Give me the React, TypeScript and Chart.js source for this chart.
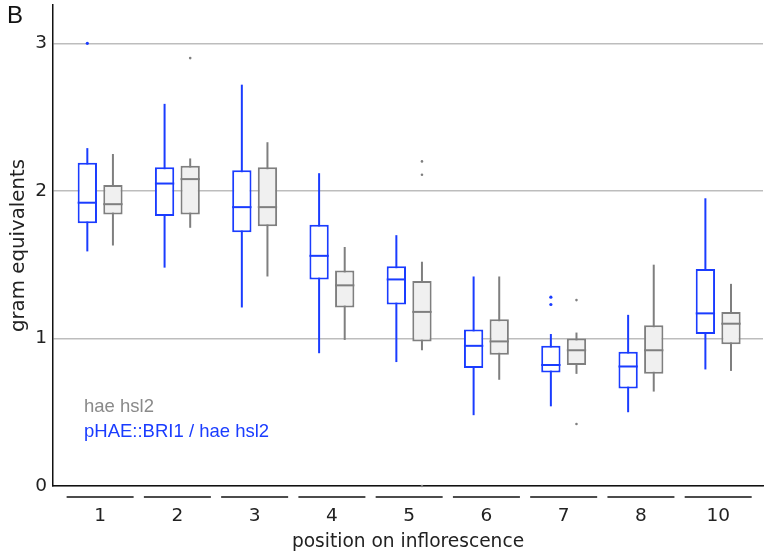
import React, { useEffect, useRef } from 'react';
import { Chart, registerables } from 'chart.js';

Chart.register(...registerables);

const positions = ['1', '2', '3', '4', '5', '6', '7', '8', '10'];

// pHAE::BRI1 / hae hsl2 (blue)
const briMin = [1.59, 1.48, 1.21, 0.9, 0.84, 0.48, 0.54, 0.5, 0.79];
const briQ1 = [1.78, 1.83, 1.72, 1.4, 1.23, 0.8, 0.77, 0.66, 1.03];
const briMedian = [1.92, 2.05, 1.89, 1.56, 1.4, 0.95, 0.82, 0.81, 1.17];
const briQ3 = [2.19, 2.16, 2.14, 1.77, 1.49, 1.06, 0.95, 0.91, 1.47];
const briMax = [2.29, 2.59, 2.72, 2.12, 1.7, 1.42, 1.03, 1.16, 1.95];
const briOutliers = [[3.0], [], [], [], [], [], [1.28, 1.23], [], []];

// hae hsl2 (gray)
const haeMin = [1.63, 1.75, 1.42, 0.99, 0.92, 0.72, 0.76, 0.64, 0.78];
const haeQ1 = [1.84, 1.84, 1.76, 1.21, 0.98, 0.89, 0.82, 0.76, 0.96];
const haeMedian = [1.91, 2.08, 1.89, 1.36, 1.18, 0.98, 0.92, 0.92, 1.1];
const haeQ3 = [2.04, 2.17, 2.16, 1.46, 1.39, 1.13, 1.0, 1.09, 1.18];
const haeMax = [2.25, 2.22, 2.33, 1.62, 1.52, 1.42, 1.04, 1.5, 1.37];
const haeOutliers = [[], [2.9], [], [], [2.2, 2.11, 0], [], [1.26, 0.42], [], []];

const yTicks = [0, 1, 2, 3];

const BLUE = '#1a3cff';
const GRAY = '#7f7f7f';
const GRAY_FILL = '#f0f0f0';
const TEXT = '#222222';
const DEJAVU = '"DejaVu Sans", sans-serif';
const ARIAL = '"Liberation Sans", Arial, sans-serif';

const stats = [
  { min: briMin, med: briMedian, max: briMax, out: briOutliers, color: BLUE, lw: 2, r: 1.6 },
  { min: haeMin, med: haeMedian, max: haeMax, out: haeOutliers, color: GRAY, lw: 2, r: 1.3 },
];

const boxPlugin = {
  id: 'boxExtras',
  beforeDatasetsDraw(chart: any) {
    const ctx = chart.ctx;
    const y = chart.scales.y;
    stats.forEach((s, di) => {
      const meta = chart.getDatasetMeta(di);
      meta.data.forEach((bar: any, i: number) => {
        const { x } = bar.getProps(['x'], true);
        ctx.save();
        ctx.strokeStyle = s.color;
        ctx.lineWidth = s.lw;
        ctx.beginPath();
        ctx.moveTo(x, y.getPixelForValue(s.min[i]));
        ctx.lineTo(x, y.getPixelForValue(s.max[i]));
        ctx.stroke();
        ctx.restore();
      });
    });
  },
  afterDatasetsDraw(chart: any) {
    const ctx = chart.ctx;
    const y = chart.scales.y;
    stats.forEach((s, di) => {
      const meta = chart.getDatasetMeta(di);
      meta.data.forEach((bar: any, i: number) => {
        const { x, width } = bar.getProps(['x', 'width'], true);
        ctx.save();
        ctx.strokeStyle = s.color;
        ctx.lineWidth = s.lw;
        const my = y.getPixelForValue(s.med[i]);
        ctx.beginPath();
        ctx.moveTo(x - width / 2, my);
        ctx.lineTo(x + width / 2, my);
        ctx.stroke();
        ctx.fillStyle = s.color;
        s.out[i].forEach((v: number) => {
          ctx.beginPath();
          ctx.arc(x, y.getPixelForValue(v), s.r, 0, Math.PI * 2);
          ctx.fill();
        });
        ctx.restore();
      });
    });
  },
  afterDraw(chart: any) {
    const ctx = chart.ctx;
    const xs = chart.scales.x;
    const area = chart.chartArea;
    ctx.save();
    // group underlines
    ctx.strokeStyle = '#111';
    ctx.lineWidth = 1.5;
    positions.forEach((_, i) => {
      const cx = xs.getPixelForValue(i + 1);
      ctx.beginPath();
      ctx.moveTo(cx - 33.5, area.bottom + 11);
      ctx.lineTo(cx + 33.5, area.bottom + 11);
      ctx.stroke();
    });
    // panel letter
    ctx.fillStyle = '#111';
    ctx.font = `24px ${ARIAL}`;
    ctx.textAlign = 'left';
    ctx.textBaseline = 'alphabetic';
    ctx.fillText('B', 7, 23);
    // legend text
    ctx.font = `18.5px ${ARIAL}`;
    ctx.fillStyle = '#8a8a8a';
    ctx.fillText('hae hsl2', area.left + 31, 412);
    ctx.fillStyle = BLUE;
    ctx.fillText('pHAE::BRI1 / hae hsl2', area.left + 31, 437);
    ctx.restore();
  },
};

export default function App() {
  const ref = useRef<HTMLCanvasElement>(null);
  useEffect(() => {
    const xs = positions.map((_, i) => i + 1);
    const chart = new Chart(ref.current as HTMLCanvasElement, {
      type: 'bar',
      data: {
        datasets: [
          {
            label: 'pHAE::BRI1 / hae hsl2',
            data: xs.map((x, i) => ({ x, y: [briQ1[i], briQ3[i]] })) as any,
            backgroundColor: '#ffffff',
            borderColor: BLUE,
            borderWidth: 2,
            borderSkipped: false,
            categoryPercentage: 0.663,
            barPercentage: 0.754,
          },
          {
            label: 'hae hsl2',
            data: xs.map((x, i) => ({ x, y: [haeQ1[i], haeQ3[i]] })) as any,
            backgroundColor: GRAY_FILL,
            borderColor: GRAY,
            borderWidth: 2,
            borderSkipped: false,
            categoryPercentage: 0.663,
            barPercentage: 0.754,
          },
        ],
      },
      options: {
        responsive: false,
        animation: false,
        layout: { padding: { top: 5, right: 1, left: 0, bottom: 0 } },
        scales: {
          x: {
            type: 'linear',
            offset: false,
            min: 0.39,
            max: 9.58,
            afterBuildTicks: (s: any) => {
              s.ticks = xs.map((v) => ({ value: v }));
            },
            afterFit: (s: any) => {
              s.height = 68;
              s.paddingLeft = 0;
              s.paddingRight = 0;
            },
            ticks: {
              callback: (v: any) => positions[Math.round(Number(v)) - 1],
              padding: 19,
              font: { family: DEJAVU, size: 18.5 },
              color: TEXT,
              maxRotation: 0,
            },
            grid: { display: true, offset: false, drawOnChartArea: false, drawTicks: false, color: 'rgba(0,0,0,0)' },
            border: { display: true, color: '#111', width: 1.5 },
            title: {
              display: true,
              text: 'position on inflorescence',
              font: { family: DEJAVU, size: 18.6 },
              color: TEXT,
              padding: { top: 1, bottom: 1 },
            },
          },
          y: {
            min: 0,
            max: 3.26,
            afterBuildTicks: (s: any) => {
              s.ticks = yTicks.map((v) => ({ value: v }));
            },
            afterFit: (s: any) => {
              s.width = 53;
              s.paddingTop = 0;
              s.paddingBottom = 0;
            },
            ticks: {
              padding: 6,
              font: { family: DEJAVU, size: 18.5 },
              color: TEXT,
            },
            grid: { color: '#bdbdbd', lineWidth: 1.5, drawTicks: false },
            border: { display: true, color: '#111', width: 1.5 },
            title: {
              display: true,
              text: 'gram equivalents',
              font: { family: DEJAVU, size: 19.8 },
              color: TEXT,
              padding: { top: 6.5, bottom: 0 },
            },
          },
        },
        plugins: {
          legend: { display: false },
          tooltip: { enabled: false },
        },
      },
      plugins: [boxPlugin],
    });
    return () => chart.destroy();
  }, []);

  return (
    <div style={{ position: 'fixed', left: 0, top: 0, width: 764, height: 554, background: '#fff' }}>
      <canvas ref={ref} width={764} height={554} style={{ display: 'block', width: 764, height: 554 }} />
    </div>
  );
}
